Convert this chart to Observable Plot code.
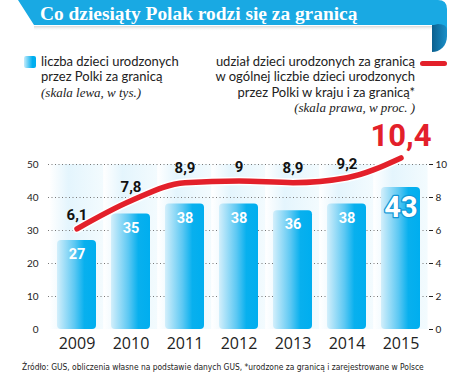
<!DOCTYPE html>
<html>
<head>
<meta charset="utf-8">
<script src="https://cdn.jsdelivr.net/npm/d3@7"></script>
<script src="https://cdn.jsdelivr.net/npm/@observablehq/plot@0.6"></script>
<style>
  html, body { margin: 0; padding: 0; background: #fff; }
  #wrap { position: relative; width: 474px; height: 381px; overflow: hidden; font-family: Lato, "Open Sans", sans-serif; }
  #wrap > svg.plotsvg { position: absolute; left: 0; top: 0; }
  .abs { position: absolute; white-space: nowrap; }
  .leg { font-size: 13px; line-height: 15.3px; color: #222; }
  .it { font-family: "Liberation Serif", serif; font-style: italic; font-size: 13px; }
  #title { left: 40px; top: 3px; font-family: "Liberation Serif", serif; font-weight: bold; font-size: 19.4px; color: #fff; }
  #source { left: 22px; top: 362px; font-size: 8.4px; color: #222; font-family: "DejaVu Sans Condensed", sans-serif; }
</style>
</head>
<body>
<div id="wrap"></div>
<script>
// ---- data ----
const years = ["2009", "2010", "2011", "2012", "2013", "2014", "2015"];
const births = [27, 35, 38, 38, 36, 38, 43];            // thousands, left scale
const share = [6.1, 7.8, 8.9, 9, 8.9, 9.2, 10.4];        // percent, right scale
const shareLabels = ["6,1", "7,8", "8,9", "9", "8,9", "9,2", "10,4"];
const leftTicks = [0, 10, 20, 30, 40, 50];
const rightTicks = [0, 2, 4, 6, 8, 10];

const titleText = "Co dziesiąty Polak rodzi się za granicą";
const legendLeft = ["liczba dzieci urodzonych", "przez Polki za granicą", "(skala lewa, w tys.)"];
const legendRight = ["udział dzieci urodzonych za granicą", "w ogólnej liczbie dzieci urodzonych", "przez Polki w kraju i za granicą*", "(skala prawa, w proc. )"];
const sourceText = "Źródło: GUS, obliczenia własne na podstawie danych GUS, *urodzone za granicą i zarejestrowane w Polsce";

// right scale mapped onto left scale
const k = leftTicks[leftTicks.length - 1] / rightTicks[rightTicks.length - 1];
const rows = years.map((y, i) => ({
  year: y, births: births[i], share: share[i], shareY: share[i] * k,
  label: shareLabels[i], last: i === years.length - 1
}));
const normal = rows.filter(d => !d.last);
const lastRow = rows.filter(d => d.last);

const defs = () => {
  const d = d3.create("svg:defs");
  const g = d.append("linearGradient").attr("id", "barGrad").attr("x1", 0).attr("x2", 1).attr("y1", 0).attr("y2", 0);
  g.append("stop").attr("offset", "0%").attr("stop-color", "#d3effb");
  g.append("stop").attr("offset", "45%").attr("stop-color", "#5cc8f3");
  g.append("stop").attr("offset", "70%").attr("stop-color", "#08b0ee");
  g.append("stop").attr("offset", "100%").attr("stop-color", "#00aeef");
  const b = d.append("linearGradient").attr("id", "bgGrad").attr("x1", 0).attr("x2", 1).attr("y1", 0).attr("y2", 0);
  b.append("stop").attr("offset", "0%").attr("stop-color", "#ffffff");
  b.append("stop").attr("offset", "35%").attr("stop-color", "#e4f5fd");
  b.append("stop").attr("offset", "100%").attr("stop-color", "#f3fbfe");
  return d.node();
};

const chart = Plot.plot({
  width: 474,
  height: 381,
  marginTop: 164,
  marginBottom: 52,
  marginLeft: 48,
  marginRight: 46,
  style: { background: "transparent", fontFamily: "Lato, sans-serif" },
  x: { domain: years, paddingInner: 0.28, paddingOuter: 0.14, label: null },
  y: { domain: [0, 50], label: null },
  marks: [
    defs,
    Plot.barY(rows, { x: "year", y1: 0, y2: 50, fill: "url(#bgGrad)", insetLeft: -7.6, insetRight: -7.6 }),
    Plot.ruleY(leftTicks.filter(t => t > 0), { stroke: "#777", strokeDasharray: "1,2.5", strokeWidth: 1 }),
    Plot.axisY({ ticks: leftTicks, tickSize: 0, tickPadding: 10, fontSize: 10, color: "#222" }),
    Plot.axisY({ anchor: "right", ticks: leftTicks, tickFormat: d => d / k, tickSize: 4, tickPadding: 3, fontSize: 10, color: "#222" }),
    Plot.barY(rows, { x: "year", y: "births", fill: "url(#barGrad)", rx: 4 }),
    Plot.ruleY([0], { stroke: "#111", strokeWidth: 2, x1: years[0], x2: years[years.length - 1], insetLeft: -28, insetRight: -28 }),
    Plot.axisX({ tickSize: 0, tickPadding: 8, fontSize: 16, fontFamily: "Open Sans", fill: "#222" }),
    Plot.text(normal, { x: "year", y: "births", text: d => String(d.births), dy: 14, fill: "white", fontSize: 14.5, fontWeight: 700, fontFamily: "Roboto" }),
    Plot.text(lastRow, { x: "year", y: "births", text: d => String(d.births), dy: 20, fill: "white", stroke: "#0f96d6", strokeWidth: 2.5, paintOrder: "stroke", fontSize: 29, fontWeight: 700, fontFamily: "Roboto" }),
    Plot.lineY(rows, { x: "year", y: "shareY", stroke: "white", strokeWidth: 8.5, curve: "monotone-x", strokeLinecap: "round" }),
    Plot.lineY(rows, { x: "year", y: "shareY", stroke: "#e3202a", strokeWidth: 5.5, curve: "monotone-x", strokeLinecap: "round" }),
    Plot.text(normal, { x: "year", y: "shareY", text: "label", dy: -14, fill: "#111", fontSize: 15, fontWeight: 700, fontFamily: "Roboto" }),
    Plot.text(lastRow, { x: "year", y: "shareY", text: "label", dy: -22, fill: "#e3202a", fontSize: 31, fontWeight: 700, fontFamily: "Roboto" })
  ]
});
chart.classList.add("plotsvg");
const wrap = document.getElementById("wrap");
wrap.appendChild(chart);

// banner (decorative)
const banner = d3.select(wrap).append("svg").attr("class", "abs").style("left", "0px").style("top", "0px")
  .attr("width", 474).attr("height", 60);
const bd = banner.append("defs");
const sh = bd.append("linearGradient").attr("id", "shGrad").attr("x1", 0).attr("x2", 0).attr("y1", 0).attr("y2", 1);
sh.append("stop").attr("offset", "0%").attr("stop-color", "#bbb").attr("stop-opacity", 0.6);
sh.append("stop").attr("offset", "100%").attr("stop-color", "#fff").attr("stop-opacity", 0);
const fg = bd.append("linearGradient").attr("id", "foldGrad").attr("x1", 0).attr("x2", 1).attr("y1", 0).attr("y2", 0);
fg.append("stop").attr("offset", "0%").attr("stop-color", "#0b5f8e");
fg.append("stop").attr("offset", "100%").attr("stop-color", "#1a8fc8");
banner.append("path").attr("d", "M34,26 L436,26 L436,31 L34,31 Z").attr("fill", "url(#shGrad)");
banner.append("path").attr("d", "M432,24 L432,52 C440,52 447,46 447,36 L447,24 Z").attr("fill", "url(#foldGrad)");
banner.append("path").attr("d", "M18,0 L438,0 Q447,0 447,9 L447,30 Q447,24 438,24 L434,25 L34,25 Z").attr("fill", "#19a9e3");

const addDiv = (cls, css, text) => {
  const el = document.createElement("div");
  el.className = "abs " + cls;
  Object.assign(el.style, css);
  el.textContent = text;
  wrap.appendChild(el);
  return el;
};
addDiv("", {}, titleText).id = "title";

// left legend
const sw = document.createElement("div");
sw.className = "abs";
Object.assign(sw.style, { left: "24px", top: "56px", width: "12px", height: "12px", borderRadius: "2px", background: "linear-gradient(90deg, #c6ecfb, #00aeef 70%)" });
wrap.appendChild(sw);
legendLeft.forEach((t, i) => {
  addDiv(i === 2 ? "leg it" : "leg", { left: "41px", top: (54 + i * 15.3) + "px" }, t);
});
// right legend
legendRight.forEach((t, i) => {
  addDiv(i === 3 ? "leg it" : "leg", { right: (474 - 415) + "px", top: (54 + i * 15.3) + "px", textAlign: "right" }, t);
});
const rl = document.createElement("div");
rl.className = "abs";
Object.assign(rl.style, { left: "420px", top: "60.5px", width: "27px", height: "5px", borderRadius: "3px", background: "#e3202a" });
wrap.appendChild(rl);

addDiv("", {}, sourceText).id = "source";
</script>
</body>
</html>
